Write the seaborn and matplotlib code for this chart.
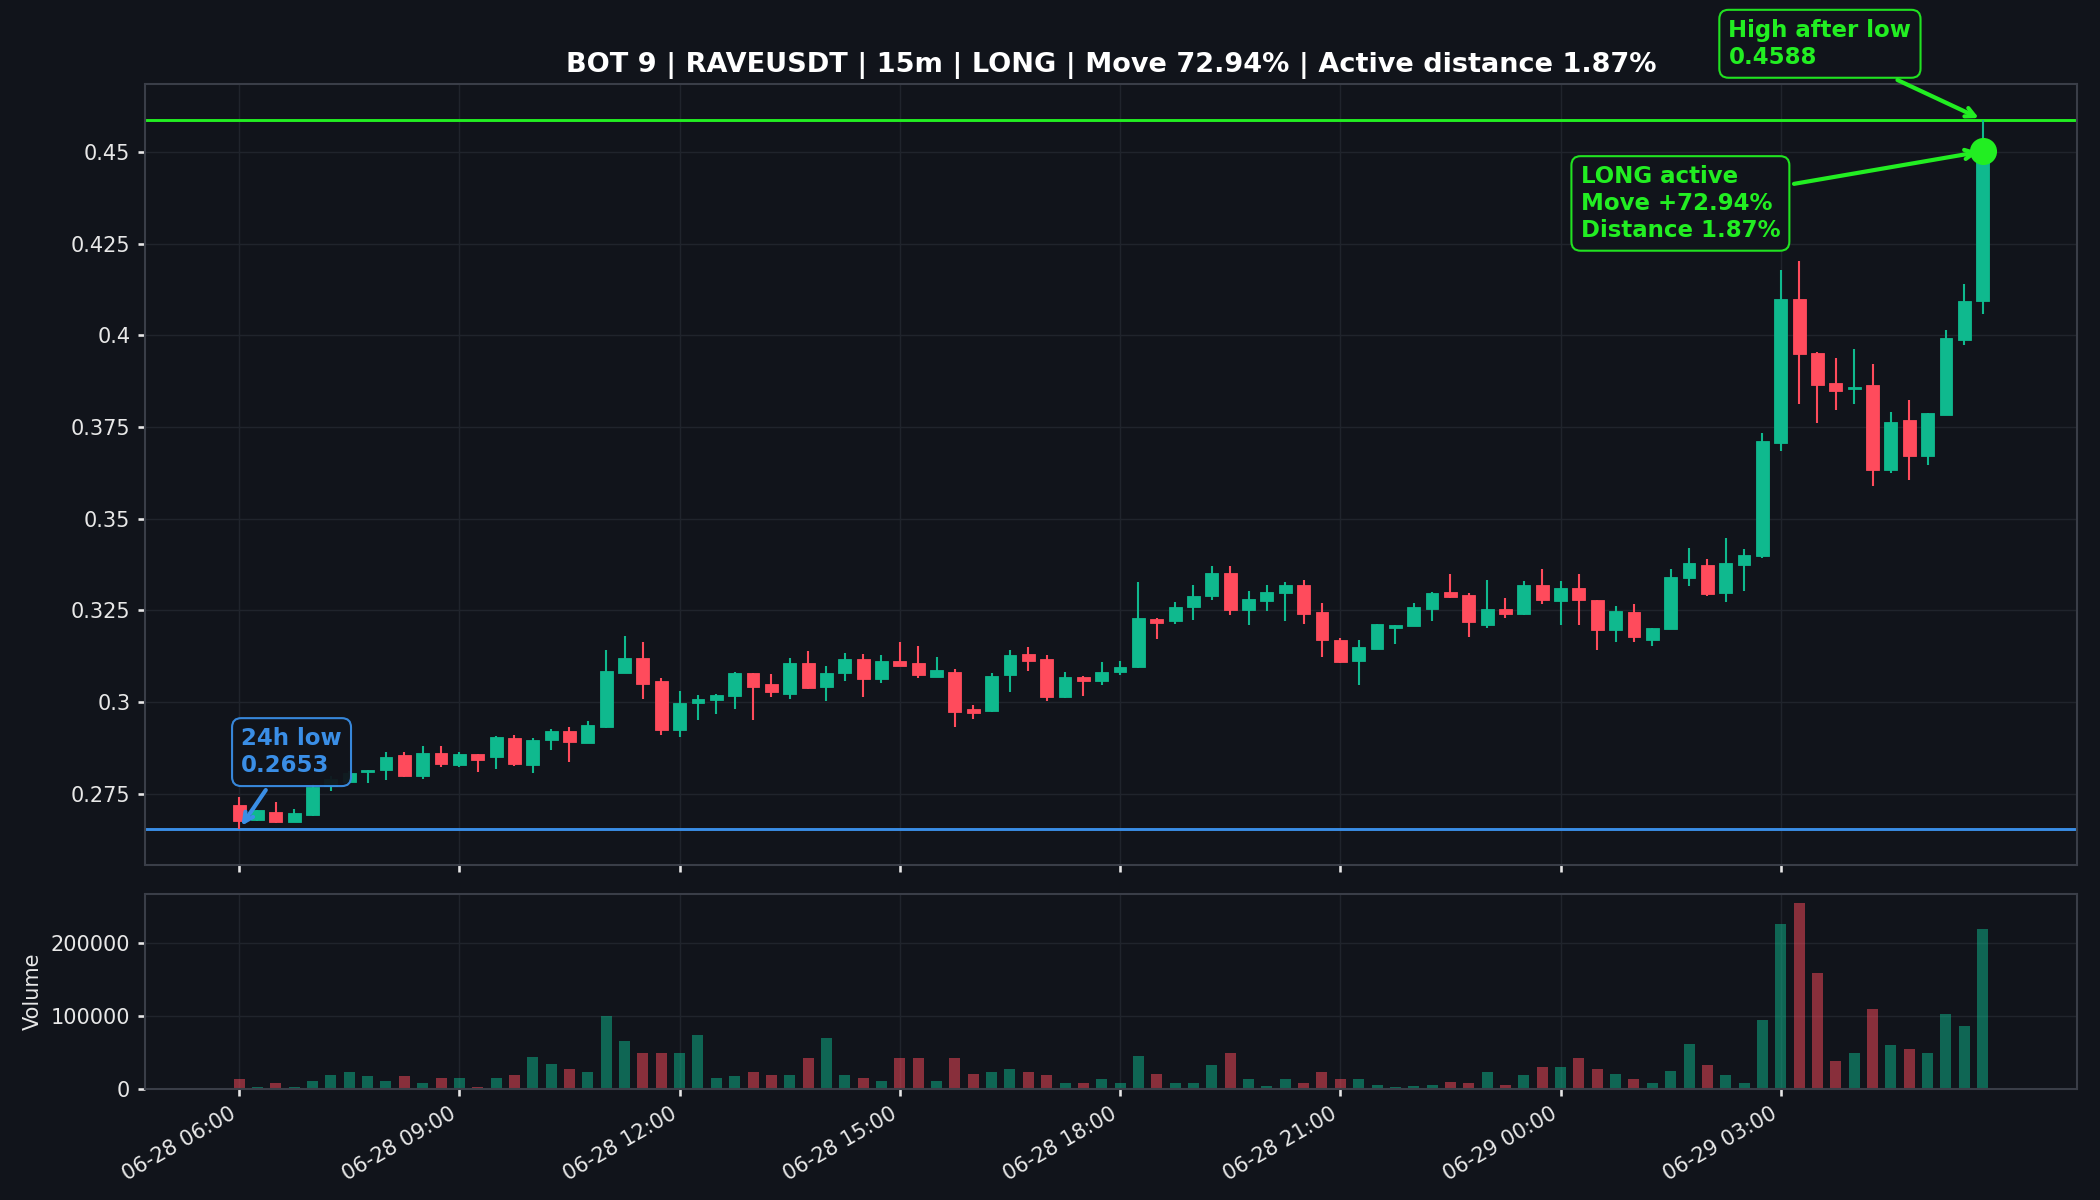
import numpy as np
import pandas as pd
import matplotlib
matplotlib.use("Agg")
import matplotlib.pyplot as plt
import seaborn as sns

# 15m candles, 06-28 06:00 -> 06-29 05:45
times = pd.date_range("2025-06-28 06:00", periods=96, freq="15min")

opens = [0.2719, 0.2677, 0.2700, 0.2673, 0.2691, 0.2772, 0.2781, 0.2809, 0.2814, 0.2855,
         0.2799, 0.2861, 0.2829, 0.2858, 0.2850, 0.2902, 0.2828, 0.2896, 0.2922, 0.2888,
         0.2931, 0.3079, 0.3119, 0.3057, 0.2923, 0.2998, 0.3005, 0.3016, 0.3078, 0.3048,
         0.3022, 0.3105, 0.3040, 0.3079, 0.3116, 0.3063, 0.3113, 0.3105, 0.3069, 0.3083,
         0.2982, 0.2975, 0.3073, 0.3132, 0.3116, 0.3013, 0.3069, 0.3057, 0.3081, 0.3095,
         0.3227, 0.3222, 0.3259, 0.3289, 0.3352, 0.3252, 0.3275, 0.3296, 0.3320, 0.3246,
         0.3170, 0.3111, 0.3145, 0.3201, 0.3207, 0.3255, 0.3300, 0.3293, 0.3209, 0.3255,
         0.3239, 0.3320, 0.3275, 0.3311, 0.3277, 0.3196, 0.3246, 0.3169, 0.3200, 0.3338,
         0.3375, 0.3298, 0.3373, 0.3398, 0.3707, 0.4098, 0.3953, 0.3871, 0.3855, 0.3866,
         0.3632, 0.3768, 0.3671, 0.3783, 0.3987, 0.4094]
highs = [0.2741, 0.2705, 0.2727, 0.2707, 0.2776, 0.2799, 0.2811, 0.2814, 0.2863, 0.2863,
         0.2881, 0.2879, 0.2863, 0.2859, 0.2907, 0.2911, 0.2902, 0.2925, 0.2931, 0.2949,
         0.3143, 0.3181, 0.3163, 0.3066, 0.3029, 0.3020, 0.3023, 0.3081, 0.3079, 0.3075,
         0.3119, 0.3138, 0.3098, 0.3134, 0.3130, 0.3127, 0.3163, 0.3152, 0.3123, 0.3090,
         0.2991, 0.3079, 0.3143, 0.3149, 0.3128, 0.3081, 0.3070, 0.3109, 0.3113, 0.3328,
         0.3228, 0.3273, 0.3320, 0.3372, 0.3372, 0.3304, 0.3318, 0.3328, 0.3334, 0.3269,
         0.3175, 0.3170, 0.3214, 0.3211, 0.3269, 0.3300, 0.3348, 0.3298, 0.3334, 0.3284,
         0.3330, 0.3363, 0.3331, 0.3350, 0.3278, 0.3263, 0.3266, 0.3203, 0.3364, 0.3420,
         0.3389, 0.3448, 0.3416, 0.3734, 0.4177, 0.4203, 0.3954, 0.3939, 0.3962, 0.3921,
         0.3792, 0.3823, 0.3788, 0.4016, 0.4139, 0.4588]
lows = [0.2653, 0.2675, 0.2670, 0.2672, 0.2690, 0.2757, 0.2779, 0.2779, 0.2788, 0.2796,
        0.2791, 0.2822, 0.2823, 0.2808, 0.2818, 0.2825, 0.2807, 0.2870, 0.2836, 0.2887,
        0.2930, 0.3078, 0.3009, 0.2909, 0.2904, 0.2950, 0.2968, 0.2982, 0.2952, 0.3013,
        0.3007, 0.3036, 0.3002, 0.3057, 0.3013, 0.3052, 0.3098, 0.3066, 0.3068, 0.2931,
        0.2954, 0.2974, 0.3027, 0.3084, 0.3002, 0.3012, 0.3016, 0.3046, 0.3073, 0.3094,
        0.3173, 0.3213, 0.3225, 0.3277, 0.3237, 0.3210, 0.3248, 0.3222, 0.3214, 0.3122,
        0.3105, 0.3046, 0.3144, 0.3159, 0.3206, 0.3220, 0.3285, 0.3177, 0.3202, 0.3228,
        0.3238, 0.3266, 0.3211, 0.3211, 0.3141, 0.3163, 0.3163, 0.3152, 0.3199, 0.3316,
        0.3289, 0.3272, 0.3302, 0.3393, 0.3684, 0.3812, 0.3762, 0.3796, 0.3812, 0.3589,
        0.3625, 0.3605, 0.3646, 0.3782, 0.3975, 0.4057]
closes = [0.2675, 0.2704, 0.2673, 0.2698, 0.2768, 0.2790, 0.2805, 0.2814, 0.2850, 0.2799,
          0.2861, 0.2831, 0.2859, 0.2841, 0.2905, 0.2830, 0.2897, 0.2922, 0.2890, 0.2936,
          0.3084, 0.3119, 0.3049, 0.2923, 0.2996, 0.3009, 0.3020, 0.3078, 0.3040, 0.3027,
          0.3105, 0.3037, 0.3079, 0.3116, 0.3063, 0.3113, 0.3099, 0.3073, 0.3086, 0.2973,
          0.2970, 0.3072, 0.3127, 0.3111, 0.3013, 0.3069, 0.3057, 0.3082, 0.3096, 0.3228,
          0.3216, 0.3260, 0.3290, 0.3351, 0.3252, 0.3281, 0.3301, 0.3318, 0.3240, 0.3169,
          0.3109, 0.3150, 0.3213, 0.3209, 0.3260, 0.3296, 0.3286, 0.3218, 0.3254, 0.3239,
          0.3320, 0.3278, 0.3311, 0.3277, 0.3196, 0.3248, 0.3177, 0.3202, 0.3341, 0.3378,
          0.3294, 0.3378, 0.3402, 0.3711, 0.4098, 0.3948, 0.3866, 0.3848, 0.3860, 0.3632,
          0.3764, 0.3671, 0.3787, 0.3992, 0.4095, 0.4502]
volumes = [13800, 2300, 8300, 3200, 10600, 19800, 23000, 17500, 10600, 17500,
           8300, 15200, 15600, 3200, 15600, 18900, 43200, 34000, 28000, 23000,
           100200, 65300, 48700, 49700, 48700, 74000, 15600, 17500, 23000, 19800,
           19800, 41800, 70300, 19800, 15600, 11500, 41800, 41800, 11500, 41800,
           21100, 23000, 26700, 23000, 18900, 8700, 8700, 14300, 8700, 45000,
           21100, 8700, 8700, 32200, 48700, 14300, 4600, 14300, 8700, 23000,
           14300, 14300, 6000, 3200, 4600, 6000, 10100, 8700, 23000, 6000,
           19800, 30300, 30300, 41800, 28000, 21100, 14300, 8700, 24800, 61600,
           32200, 19800, 8700, 94300, 225300, 254300, 159000, 37700, 48700, 109400,
           59800, 54300, 48700, 102500, 86000, 218400]

low_24h = 0.2653
high_after_low = 0.4588
move_pct = 72.94
distance_pct = 1.87

BG = "#11141b"
GREEN = "#0fb98e"
RED = "#ff4b5c"
LIME = "#22ee22"
BLUE = "#3a8ee6"
GRID = "#20242c"

sns.set_theme(style="darkgrid", rc={
    "figure.facecolor": BG, "axes.facecolor": BG, "axes.edgecolor": "#3a3e48",
    "grid.color": GRID, "grid.linewidth": 0.7, "text.color": "#e8e8e8",
    "axes.labelcolor": "#e8e8e8", "xtick.color": "#e8e8e8", "ytick.color": "#e8e8e8",
    "xtick.bottom": True, "ytick.left": True, "xtick.major.size": 3.5,
    "ytick.major.size": 3.5, "axes.linewidth": 1.0,
})

df = pd.DataFrame({"time": times, "open": opens, "high": highs, "low": lows,
                   "close": closes, "volume": volumes})
df["idx"] = np.arange(len(df))
df["side"] = np.where(df["close"] >= df["open"], "up", "down")
colors = np.where(df["side"] == "up", GREEN, RED)

fig, (ax, axv) = plt.subplots(2, 1, figsize=(14, 8), dpi=150, sharex=True,
                              gridspec_kw={"height_ratios": [4, 1], "hspace": 0.06})
fig.subplots_adjust(left=0.069, right=0.989, top=0.9297, bottom=0.0925)

# candles
ax.vlines(df["idx"], df["low"], df["high"], colors=colors, linewidth=1.0, zorder=2)
body_low = np.minimum(df["open"], df["close"])
body_h = np.abs(df["close"] - df["open"])
ax.bar(df["idx"], body_h, bottom=body_low, width=0.7, color=colors,
       edgecolor=colors, linewidth=0.4, zorder=3)

ax.axhline(high_after_low, color=LIME, linewidth=1.4, zorder=1)
ax.axhline(low_24h, color=BLUE, linewidth=1.4, zorder=1)

last = len(df) - 1
ax.plot(last, closes[-1], "o", color=LIME, markersize=12, zorder=5)

box = dict(boxstyle="round,pad=0.4", fc=BG, lw=1.0, alpha=0.95)
ax.annotate("24h low\n%.4f" % low_24h, xy=(0, low_24h), xytext=(1, 37),
            textcoords="offset points", ha="left", va="center", color=BLUE,
            fontsize=11, fontweight="bold", bbox={**box, "ec": BLUE},
            arrowprops=dict(arrowstyle="->", color=BLUE, lw=2), zorder=6)
ax.annotate("High after low\n%.4f" % high_after_low, xy=(last, high_after_low),
            xytext=(-122, 36.5), textcoords="offset points", ha="left", va="center",
            color=LIME, fontsize=11, fontweight="bold", bbox={**box, "ec": LIME},
            arrowprops=dict(arrowstyle="->", color=LIME, lw=2),
            annotation_clip=False, zorder=6)
ax.annotate("LONG active\nMove +%.2f%%\nDistance %.2f%%" % (move_pct, distance_pct),
            xy=(last, closes[-1]), xytext=(-193, -25), textcoords="offset points",
            ha="left", va="center", color=LIME, fontsize=11, fontweight="bold",
            bbox={**box, "ec": LIME}, arrowprops=dict(arrowstyle="->", color=LIME, lw=2),
            zorder=6)

ax.set_title("BOT 9 | RAVEUSDT | 15m | LONG | Move %.2f%% | Active distance %.2f%%"
             % (move_pct, distance_pct), fontsize=13, fontweight="bold", color="white")
ax.yaxis.set_major_formatter(plt.FuncFormatter(lambda v, p: "%g" % v))
ax.tick_params(labelbottom=False, labelsize=10)
ax.set_ylabel("")

# volume
sns.barplot(data=df, x="idx", y="volume", hue="side", palette={"up": GREEN, "down": RED},
            native_scale=True, dodge=False, width=0.6, saturation=1, alpha=0.5,
            linewidth=0, errorbar=None, legend=False, ax=axv)
axv.set_ylabel("Volume", fontsize=10)
axv.set_xlabel("")
axv.yaxis.set_major_formatter(plt.FuncFormatter(lambda v, p: "%g" % v))

tick_pos = list(range(0, len(df), 12))
axv.set_xticks(tick_pos)
axv.set_xticklabels([times[i].strftime("%m-%d %H:%M") for i in tick_pos],
                    rotation=30, ha="right", fontsize=10)
axv.tick_params(labelsize=10)

for a in (ax, axv):
    for s in a.spines.values():
        s.set_color("#3a3e48")

fig.savefig("out.png", dpi=150, facecolor=BG)
